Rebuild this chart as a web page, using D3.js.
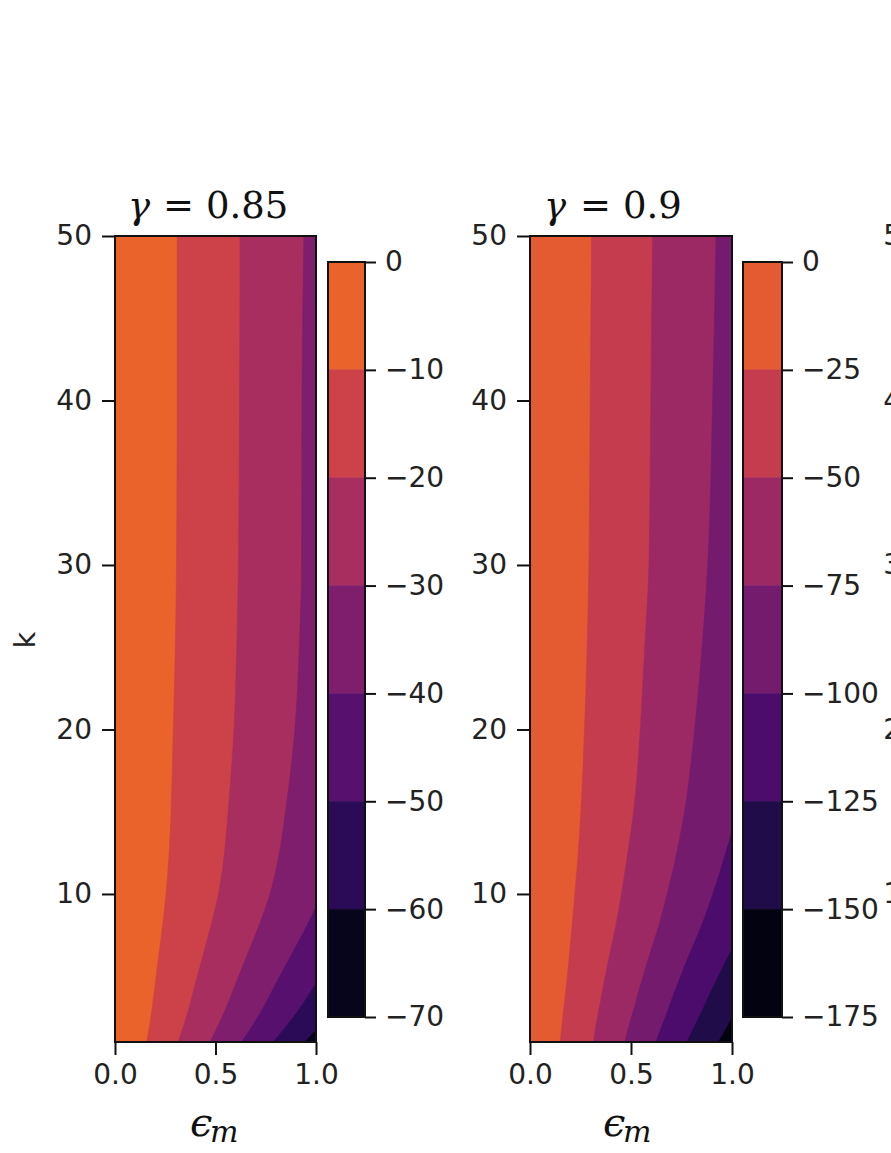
<!DOCTYPE html>
<html><head><meta charset="utf-8">
<script src="https://cdn.jsdelivr.net/npm/d3@7"></script>
<style>body{margin:0;background:#fff} svg{display:block}</style>
</head><body><svg id="c" width="891" height="1153"></svg>
<script>
// ---------- data ----------
const kTicks = [10, 20, 30, 40, 50];
const epsTicks = [0, 0.5, 1.0];

// panel 1: gamma = 0.85
const title1 = "0.85";
const levels1 = [0, -10, -20, -30, -40, -50, -60, -70];
const p1_m10 = [[.158,1],[.172,2],[.184,3],[.195,4],[.205,5],[.215,6],[.236,8],[.254,10],[.267,12],[.279,15],[.290,20],[.300,25],[.306,30],[.309,40],[.309,50]];
const p1_m20 = [[.315,1],[.342,2],[.367,3],[.388,4],[.410,5],[.432,6],[.476,8],[.515,10],[.540,12],[.563,15],[.592,20],[.606,25],[.614,30],[.620,40],[.622,50]];
const p1_m30 = [[.473,1],[.513,2],[.550,3],[.583,4],[.615,5],[.648,6],[.714,8],[.771,10],[.810,12],[.848,15],[.895,20],[.917,25],[.928,30],[.930,40],[.940,50]];
const p1_m40 = [[.630,1],[.684,2],[.734,3],[.777,4],[.820,5],[.864,6],[.952,8],[1,9.2]];
const p1_m50 = [[.787,1],[.855,2],[.917,3],[.971,4],[1,4.57]];
const p1_m60 = [[.945,1],[1,1.73]];

// panel 2: gamma = 0.9
const title2 = "0.9";
const levels2 = [0, -25, -50, -75, -100, -125, -150, -175];
const p2_m25 = [[.150,1],[.158,2],[.167,3],[.176,4],[.185,5],[.193,6],[.208,8],[.222,10],[.236,12],[.252,15],[.270,20],[.283,25],[.292,30],[.298,40],[.305,50]];
const p2_m50 = [[.314,1],[.327,2],[.342,3],[.357,4],[.373,5],[.389,6],[.424,8],[.453,10],[.478,12],[.513,15],[.546,20],[.568,25],[.589,30],[.598,40],[.607,50]];
const p2_m75 = [[.470,1],[.490,2],[.514,3],[.536,4],[.560,5],[.584,6],[.636,8],[.679,10],[.718,12],[.765,15],[.815,20],[.852,25],[.880,30],[.904,40],[.921,50]];
const p2_m100 = [[.624,1],[.654,2],[.685,3],[.714,4],[.746,5],[.778,6],[.847,8],[.905,10],[.957,12],[1,13.8]];
const p2_m125 = [[.776,1],[.817,2],[.856,3],[.893,4],[.933,5],[.973,6],[1,6.64]];
const p2_m150 = [[.932,1],[.980,2],[1,2.5]];

// colour positions in the inferno map (top band first)
const tInferno1 = [0.65, 0.55, 0.45, 0.35, 0.25, 0.15, 0.05];
const tInferno2 = [0.625, 0.525, 0.425, 0.325, 0.225, 0.125, 0.03];

// ---------- drawing ----------
const svg = d3.select("#c");
const FONT = "DejaVu Sans";
const SERIF = "DejaVu Serif";
const FS = 28;
const yScale = d3.scaleLinear().domain([1, 50]).range([1042, 236]);

function panel(o) {
  const x = d3.scaleLinear().domain([0, 1]).range([o.x0, o.x1]);
  const g = svg.append("g");
  const id = "clip" + o.x0;
  g.append("clipPath").attr("id", id).append("rect")
    .attr("x", o.x0).attr("y", 236).attr("width", o.x1 - o.x0).attr("height", 1042 - 236);
  const area = g.append("g").attr("clip-path", `url(#${id})`);
  const colors = o.t.map(t => d3.interpolateInferno(t));
  area.append("rect").attr("x", o.x0).attr("y", 236).attr("width", o.x1 - o.x0)
    .attr("height", 1042 - 236).attr("fill", colors[0]);
  const line = d3.line().x(d => x(d[0])).y(d => yScale(d[1])).curve(d3.curveMonotoneY);
  o.contours.forEach((c, i) => {
    const pts = c.slice().reverse();            // from top (largest k) downwards
    const top = pts[0];
    const rx = x(1.05);
    let d = line(pts);
    d += `L${x(c[0][0])},${yScale(0)}L${rx},${yScale(0)}L${rx},${yScale(top[1])}`;
    if (top[1] >= 50) d += `L${rx},${yScale(51)}L${x(top[0])},${yScale(51)}`;
    d += "Z";
    area.append("path").attr("d", d).attr("fill", colors[i + 1])
      .attr("stroke", colors[i + 1]).attr("stroke-width", 0.6);
  });
  // frame
  g.append("rect").attr("x", o.x0).attr("y", 236).attr("width", o.x1 - o.x0)
    .attr("height", 1042 - 236).attr("fill", "none").attr("stroke", "#111").attr("stroke-width", 2);
  // axes
  const ya = g.append("g").attr("transform", `translate(${o.x0},0)`)
    .call(d3.axisLeft(yScale).tickValues(kTicks).tickSize(13).tickPadding(10).tickFormat(d3.format("d")));
  const xa = g.append("g").attr("transform", `translate(0,1042)`)
    .call(d3.axisBottom(x).tickValues(epsTicks).tickSize(13).tickPadding(9).tickFormat(d3.format(".1f")));
  [ya, xa].forEach(a => {
    a.select(".domain").remove();
    a.selectAll("line").attr("stroke", "#111").attr("stroke-width", 2);
    a.selectAll("text").attr("font-family", FONT).attr("font-size", FS).attr("fill", "#222");
  });
  // title
  const tt = g.append("text").attr("y", 218).attr("font-family", SERIF).attr("font-size", 37).attr("fill", "#111");
  tt.append("tspan").attr("x", o.tx[0]).attr("font-style", "italic").text("γ");
  tt.append("tspan").attr("x", o.tx[1]).text("=");
  tt.append("tspan").attr("x", o.tx[2]).text(o.title);
  // x label
  const xl = g.append("text").attr("y", 1136).attr("font-family", SERIF).attr("font-size", 40)
    .attr("font-style", "italic").attr("fill", "#111");
  xl.append("tspan").attr("x", o.lx).text("ϵ");
  xl.append("tspan").attr("x", o.lx + 20).attr("dy", 6).attr("font-size", 30).text("m");

  // colorbar
  const cb = d3.scaleLinear().domain([o.levels[o.levels.length - 1], 0]).range([1017, 262]);
  const bands = d3.pairs(o.levels);
  g.selectAll(null).data(bands).join("rect")
    .attr("x", o.cb0).attr("width", o.cb1 - o.cb0)
    .attr("y", d => cb(d[0])).attr("height", d => cb(d[1]) - cb(d[0]))
    .attr("fill", (d, i) => colors[i]).attr("stroke", (d, i) => colors[i]).attr("stroke-width", 0.5);
  g.append("rect").attr("x", o.cb0).attr("y", 262).attr("width", o.cb1 - o.cb0).attr("height", 1017 - 262)
    .attr("fill", "none").attr("stroke", "#111").attr("stroke-width", 2);
  const ca = g.append("g").attr("transform", `translate(${o.cb1},0)`)
    .call(d3.axisRight(cb).tickValues(o.levels).tickSize(11).tickPadding(9).tickFormat(d3.format("d")));
  ca.select(".domain").remove();
  ca.selectAll("line").attr("stroke", "#111").attr("stroke-width", 2);
  ca.selectAll("text").attr("font-family", FONT).attr("font-size", FS).attr("fill", "#222");
}

panel({x0: 115, x1: 316, cb0: 328, cb1: 365, t: tInferno1, levels: levels1, title: title1,
  contours: [p1_m10, p1_m20, p1_m30, p1_m40, p1_m50, p1_m60], tx: [128, 163, 206], lx: 190});
panel({x0: 530, x1: 732, cb0: 743, cb1: 782, t: tInferno2, levels: levels2, title: title2,
  contours: [p2_m25, p2_m50, p2_m75, p2_m100, p2_m125, p2_m150], tx: [544, 580, 623], lx: 603});

// third panel, only its tick labels reach the edge of the picture
const ya3 = svg.append("g").attr("transform", "translate(942,0)")
  .call(d3.axisLeft(yScale).tickValues(kTicks).tickSize(13).tickPadding(10).tickFormat(d3.format("d")));
ya3.select(".domain").remove();
ya3.selectAll("line").attr("stroke", "#111").attr("stroke-width", 2);
ya3.selectAll("text").attr("font-family", FONT).attr("font-size", FS).attr("fill", "#222");

// y label
svg.append("text").attr("transform", "translate(35,640) rotate(-90)").attr("text-anchor", "middle")
  .attr("font-family", FONT).attr("font-size", 29).attr("fill", "#222").text("k");
</script></body></html>
